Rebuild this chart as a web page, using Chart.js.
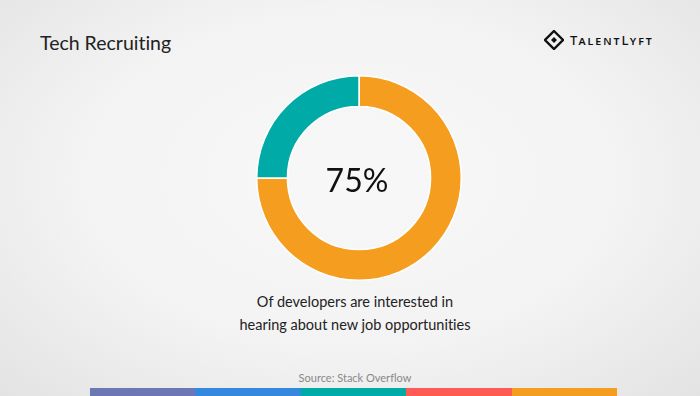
<!DOCTYPE html>
<html>
<head>
<meta charset="utf-8">
<script src="https://cdn.jsdelivr.net/npm/chart.js@4"></script>
<style>
  html, body { margin: 0; padding: 0; }
  body {
    width: 700px; height: 396px; overflow: hidden; position: relative;
    font-family: Lato, "Noto Sans", sans-serif;
    font-variant-ligatures: none;
    background: radial-gradient(ellipse at 50% 45%, #f8f8f8 0%, #f3f3f3 55%, #e3e3e3 100%);
  }
  .title { position: absolute; left: 40px; top: 31px; font-size: 19.5px; color: #222; }
  .logo { position: absolute; left: 544px; top: 30px; display: flex; align-items: center; }
  .logo span { font-family: "Noto Sans", sans-serif; font-size: 13px; letter-spacing: 2px; color: #111; margin-left: 6px; font-variant: small-caps; font-weight: 500; }
  .chart-box { position: absolute; left: 256px; top: 75px; width: 206px; height: 206px; }
  .center { position: absolute; left: 257px; width: 200px; top: 160px; text-align: center; font-size: 32px; color: #111; }
  .caption { position: absolute; left: 150px; width: 410px; top: 290px; text-align: center; font-size: 14.5px; line-height: 23px; color: #222; }
  .source { position: absolute; left: 150px; width: 410px; top: 371px; text-align: center; font-size: 11px; color: #888; }
  .stripe { position: absolute; left: 90px; top: 388px; height: 8px; display: flex; width: 527px; }
  .stripe div { flex: 1; }
</style>
</head>
<body>
<div class="title">Tech Recruiting</div>
<div class="logo">
  <svg width="20" height="20" viewBox="0 0 20 20">
    <path d="M10 1 L19 10 L10 19 L1 10 Z" fill="none" stroke="#111" stroke-width="2.4"/>
    <path d="M10 7 L13 10 L10 13 L7 10 Z" fill="#111"/>
  </svg>
  <span>TalentLyft</span>
</div>
<div class="chart-box"><canvas id="donut"></canvas></div>
<div class="center">75%</div>
<div class="caption">Of developers are interested in<br>hearing about new job opportunities</div>
<div class="source">Source: Stack Overflow</div>
<div class="stripe" id="stripe"></div>
<script>
const labels = ['Interested', 'Not interested'];
const values = [75, 25];
const colors = ['#f59d1e', '#00aaa7'];
const stripeColors = ['#6c78b4', '#3489df', '#00aaa7', '#fe5b56', '#f59d1e'];

const stripe = document.getElementById('stripe');
stripeColors.forEach(function(c) {
  const d = document.createElement('div');
  d.style.background = c;
  stripe.appendChild(d);
});

new Chart(document.getElementById('donut').getContext('2d'), {
  type: 'doughnut',
  data: {
    labels: labels,
    datasets: [{
      data: values,
      backgroundColor: colors,
      borderColor: '#ffffff',
      borderWidth: 1.5
    }]
  },
  options: {
    responsive: true,
    maintainAspectRatio: false,
    animation: false,
    cutout: '70%',
    layout: { padding: 0 },
    plugins: {
      legend: { display: false },
      tooltip: { enabled: false }
    }
  }
});
</script>
</body>
</html>
